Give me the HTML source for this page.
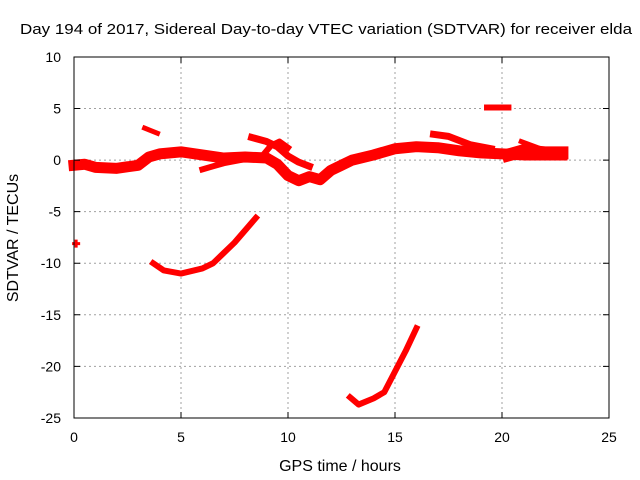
<!DOCTYPE html>
<html><head><meta charset="utf-8"><style>
body{margin:0;background:#fff}
svg{display:block;font-family:"Liberation Sans",sans-serif}
</style></head><body>
<svg id="chart" width="640" height="480">
<text x="20" y="34" font-size="15" textLength="612" lengthAdjust="spacingAndGlyphs">Day 194 of 2017, Sidereal Day-to-day VTEC variation (SDTVAR) for receiver elda</text>
<g id="grid"></g>
<g id="series"></g>
<rect x="74" y="57" width="535" height="361" fill="none" stroke="#000" stroke-width="1"/>
<g id="ticks"></g>
<text x="340" y="471" font-size="16" text-anchor="middle">GPS time / hours</text>
<text transform="translate(18,238) rotate(-90)" font-size="16" text-anchor="middle">SDTVAR / TECUs</text>
</svg>
<script>
const xTicks=[0,5,10,15,20,25];
const yTicks=[10,5,0,-5,-10,-15,-20,-25];
const seriesMain=[[0,-0.5],[0.5,-0.4],[1,-0.7],[2,-0.8],[3,-0.5],[3.5,0.3],[4,0.6],[5,0.8],[6,0.5],[7,0.2],[8,0.3],[9,0.2],[9.5,-0.4],[10,-1.5],[10.5,-2],[11,-1.6],[11.5,-1.9],[12,-1],[12.5,-0.5],[13,0],[14,0.5],[15,1.1],[16,1.3],[17,1.2],[18,0.9],[19,0.7],[20,0.6],[21,0.5],[22,0.5],[22.8,0.5]];
const seriesUpper=[[8.3,2.2],[9,1.8],[9.5,1.3],[10,0.4],[10.5,-0.2],[11,-0.6]];
const seriesLoop=[[8.8,0.4],[9.2,1.4],[9.6,1.8],[10,1.2]];
const seriesLow=[[6,-0.9],[6.5,-0.6],[7,-0.3],[8,0.1]];
const seriesLate=[[16.8,2.5],[17.5,2.3],[18.5,1.5],[19.5,1.1]];
const seriesBand=[[20.3,0.5],[21,0.9],[22,0.7],[22.8,0.7]];
const seriesSmall1=[[3.3,3.1],[3.9,2.6]];
const seriesSmall2=[[19.3,5.1],[20.3,5.1]];
const seriesSmall3=[[20.9,1.8],[21.8,1.1]];
const seriesRise1=[[3.7,-10],[4.2,-10.7],[5,-11],[6,-10.5],[6.5,-10],[7,-9],[7.5,-8],[8,-6.8],[8.5,-5.6]];
const seriesRise2=[[12.9,-23],[13.3,-23.7],[14,-23.1],[14.5,-22.5],[15,-20.5],[15.5,-18.5],[16,-16.3]];
const seriesPoint=[[0.1,-8.1]];
const NS="http://www.w3.org/2000/svg";
const X=h=>74+h*21.4, Y=v=>160.1-v*10.314;
const grid=document.getElementById('grid'),ticks=document.getElementById('ticks'),ser=document.getElementById('series');
function mk(tag,a,p){const e=document.createElementNS(NS,tag);for(const k in a)e.setAttribute(k,a[k]);p.appendChild(e);return e;}
xTicks.forEach(t=>{
 const x=X(t);
 if(t>0&&t<25){const g=mk('line',{x1:x,x2:x,y1:57,y2:418,stroke:'#a0a0a0','stroke-dasharray':'2,3'},grid);
 
 }
 const tk=mk('path',{d:`M${x} 418v-6M${x} 57v6`,stroke:'#000'},ticks);
 
 
 const l=mk('text',{x:x,y:442,'font-size':14,'text-anchor':'middle'},ticks);l.textContent=t;
 
 
});
yTicks.forEach(t=>{
 const y=Y(t);
 if(t<10&&t>-25){const g=mk('line',{x1:74,x2:609,y1:y,y2:y,stroke:'#a0a0a0','stroke-dasharray':'2,3'},grid);
 
 }
 const tk=mk('path',{d:`M74 ${y}h6M609 ${y}h-6`,stroke:'#000'},ticks);
 
 
 const l=mk('text',{x:61,y:y+5,'font-size':14,'text-anchor':'end'},ticks);l.textContent=t;
 
 
});
function line(d,w,name){
 const p=mk('polyline',{points:d.map(q=>X(q[0])+','+Y(q[1])).join(' '),fill:'none',stroke:'#f00','stroke-width':w,'stroke-linejoin':'round','stroke-linecap':'square'},ser);
 
 
}
line(seriesMain,11,'series-main');
line(seriesUpper,7,'series-upper');
line(seriesLoop,6,'series-loop');
line(seriesLow,6,'series-low');
line(seriesLate,7,'series-late');
line(seriesBand,13,'series-band');
line(seriesSmall1,5,'series-small-1');
line(seriesSmall2,6,'series-small-2');
line(seriesSmall3,5,'series-small-3');
line(seriesRise1,6,'series-rise-1');
line(seriesRise2,6,'series-rise-2');
seriesPoint.forEach(q=>{
 const p=mk('path',{d:`M${X(q[0])-4} ${Y(q[1])}h8M${X(q[0])} ${Y(q[1])-4}v8`,stroke:'#f00','stroke-width':3},ser);
 
 
});
</script>
</body></html>
